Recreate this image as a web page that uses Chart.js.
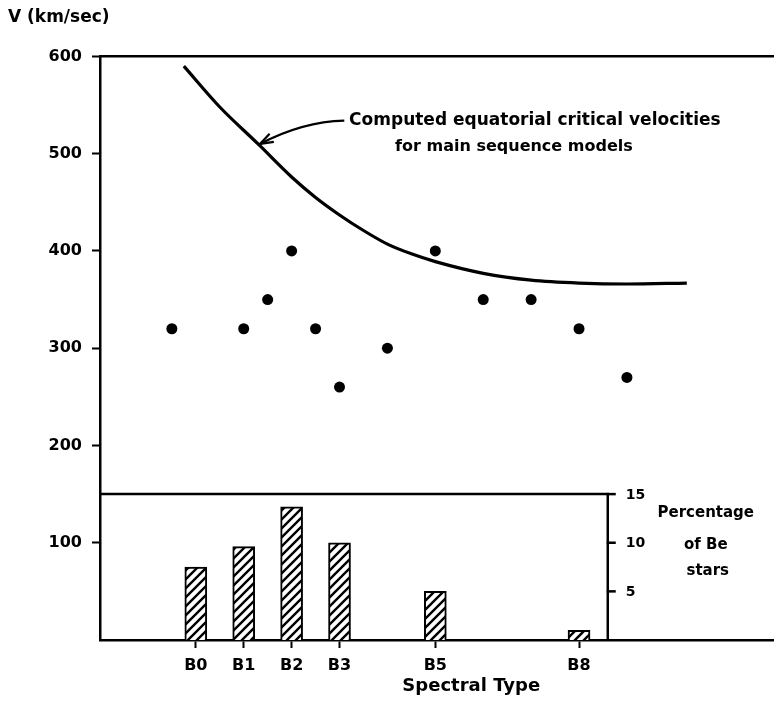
<!DOCTYPE html>
<html>
<head>
<meta charset="utf-8">
<script src="https://cdn.jsdelivr.net/npm/chart.js@4.4.0/dist/chart.umd.min.js"></script>
<style>
  html, body { margin: 0; padding: 0; background: #fff; overflow: hidden; }
  #wrap { width: 774px; height: 704px; overflow: hidden; }
</style>
</head>
<body>
<div id="wrap"><canvas id="myChart" width="848" height="704"></canvas></div>
<script>
// spectral subtype on the x axis: B0 = 0, B1 = 1 ... B9 = 9
var starType = [-0.5, 1, 1.5, 2, 2.5, 3, 4, 5, 6, 7, 8, 9];
var starVel = [320, 320, 350, 400, 320, 260, 300, 400, 350, 350, 320, 270];

// computed equatorial critical velocities
var critType = [-0.25, 0.5, 1.3, 2, 2.5, 3, 3.5, 4, 4.5, 5, 6, 7, 8, 9, 10.25];
var critVel = [590, 548, 510, 476, 455, 437, 421, 407, 397, 389, 377, 370, 367, 366, 367];

// percentage of Be stars
var beType = [0, 1, 2, 3, 5, 8];
var bePct = [7.5, 9.6, 13.7, 10, 5, 1];

var typeTicks = [0, 1, 2, 3, 5, 8];
var typeLabels = ["B0", "B1", "B2", "B3", "B5", "B8"];
var velTicks = [100, 200, 300, 400, 500, 600];
var pctTicks = [5, 10, 15];

var xMin = -2, xMax = 13.5;
var insetRight = 8.6;   // right edge of the percentage box
var pctMax = 60;        // 15 % lines up with 150 km/sec
var FONT = "'DejaVu Sans', sans-serif";

Chart.defaults.font.family = FONT;
Chart.defaults.color = "#000";

function hatch() {
  var c = document.createElement("canvas");
  c.width = 9; c.height = 9;
  var g = c.getContext("2d");
  g.fillStyle = "#fff";
  g.fillRect(0, 0, 9, 9);
  g.strokeStyle = "#000";
  g.lineWidth = 2.4;
  g.beginPath();
  g.moveTo(-2, 11); g.lineTo(11, -2);
  g.moveTo(-2, 2); g.lineTo(2, -2);
  g.moveTo(7, 11); g.lineTo(11, 7);
  g.stroke();
  return g.createPattern(c, "repeat");
}

var decor = {
  id: "decor",
  afterDatasetsDraw: function(chart) {
    var ctx = chart.ctx;
    var sx = chart.scales.x, sy = chart.scales.y, sp = chart.scales.pct;
    ctx.save();
    ctx.strokeStyle = "#000";
    ctx.fillStyle = "#000";
    ctx.lineWidth = 2.5;

    // right axis of the inset
    var ax = sx.getPixelForValue(insetRight);
    ctx.font = "bold 14px " + FONT;
    ctx.textAlign = "left";
    ctx.textBaseline = "middle";
    pctTicks.forEach(function(v) {
      var py = sp.getPixelForValue(v);
      ctx.beginPath();
      ctx.moveTo(ax - 1, py);
      ctx.lineTo(ax + 8, py);
      ctx.stroke();
      ctx.fillText(String(v), ax + 18, py + 1);
    });
    var top = sp.getPixelForValue(15);
    ctx.font = "bold 15px " + FONT;
    ctx.textAlign = "center";
    ctx.fillText("Percentage", ax + 98, top + 19);
    ctx.fillText("of Be", ax + 98, top + 51);
    ctx.fillText("stars", ax + 100, top + 77);

    // callout for the curve
    ctx.textAlign = "left";
    ctx.font = "bold 17px " + FONT;
    ctx.fillText("Computed equatorial critical velocities", sx.getPixelForValue(3.2), sy.getPixelForValue(534));
    ctx.font = "bold 16px " + FONT;
    ctx.fillText("for main sequence models", sx.getPixelForValue(4.16), sy.getPixelForValue(507));

    var x0 = sx.getPixelForValue(3.1), y0 = sy.getPixelForValue(534);
    var cx = sx.getPixelForValue(2.23), cy = sy.getPixelForValue(533);
    var x1 = sx.getPixelForValue(1.34), y1 = sy.getPixelForValue(510);
    ctx.lineWidth = 2.2;
    ctx.beginPath();
    ctx.moveTo(x0, y0);
    ctx.quadraticCurveTo(cx, cy, x1, y1);
    ctx.stroke();
    var a = Math.atan2(y1 - cy, x1 - cx);
    ctx.beginPath();
    ctx.moveTo(x1 - 14 * Math.cos(a - 0.33), y1 - 14 * Math.sin(a - 0.33));
    ctx.lineTo(x1, y1);
    ctx.lineTo(x1 - 14 * Math.cos(a + 0.33), y1 - 14 * Math.sin(a + 0.33));
    ctx.stroke();
    ctx.restore();
  }
};

new Chart("myChart", {
  type: "line",
  data: {
    datasets: [{
      type: "scatter",
      data: starType.map(function(t, i) { return {x: t, y: starVel[i]}; }),
      pointRadius: 5.5,
      pointBackgroundColor: "#000",
      pointBorderColor: "#000",
      borderWidth: 0
    }, {
      type: "line",
      data: critType.map(function(t, i) { return {x: t, y: critVel[i]}; }),
      borderColor: "#000",
      borderWidth: 3.2,
      pointRadius: 0,
      cubicInterpolationMode: "monotone",
      fill: false
    }, {
      // frame of the inset
      type: "line",
      data: [{x: xMin, y: 150}, {x: insetRight, y: 150}, {x: insetRight, y: 0}],
      borderColor: "#000",
      borderWidth: 2.5,
      pointRadius: 0,
      fill: false
    }, {
      type: "bar",
      yAxisID: "pct",
      data: beType.map(function(t, i) { return {x: t, y: bePct[i]}; }),
      backgroundColor: hatch(),
      borderColor: "#000",
      borderWidth: 2,
      barThickness: 22
    }]
  },
  options: {
    responsive: false,
    animation: false,
    layout: {padding: {left: 8, right: 0, top: 0, bottom: 0}},
    plugins: {
      legend: {display: false},
      tooltip: {enabled: false},
      title: {
        display: true,
        text: "V (km/sec)",
        align: "start",
        color: "#000",
        font: {size: 17, weight: "bold"},
        padding: {top: 7, bottom: 21}
      }
    },
    scales: {
      x: {
        type: "linear",
        position: "bottom",
        min: xMin,
        max: xMax,
        offset: false,
        afterBuildTicks: function(s) { s.ticks = typeTicks.map(function(v) { return {value: v}; }); },
        afterFit: function(s) { s.height = 64; },
        ticks: {
          autoSkip: false,
          maxRotation: 0,
          padding: 8,
          font: {size: 16, weight: "bold"},
          callback: function(v) { return typeLabels[typeTicks.indexOf(v)]; }
        },
        grid: {offset: false, drawOnChartArea: false, tickLength: 8, tickWidth: 2, tickColor: "#000"},
        border: {color: "#000", width: 2.5},
        title: {display: true, text: "Spectral Type", font: {size: 18, weight: "bold"}, padding: {top: 0, bottom: 7}}
      },
      xTop: {
        type: "linear",
        position: "top",
        min: xMin,
        max: xMax,
        ticks: {display: false},
        grid: {display: false},
        border: {color: "#000", width: 2.5}
      },
      y: {
        min: 0,
        max: 600,
        afterBuildTicks: function(s) { s.ticks = velTicks.map(function(v) { return {value: v}; }); },
        afterFit: function(s) { s.width = 92; },
        ticks: {padding: 10, font: {size: 16, weight: "bold"}},
        grid: {drawOnChartArea: false, tickLength: 8, tickWidth: 2, tickColor: "#000"},
        border: {color: "#000", width: 2.5}
      },
      pct: {
        display: false,
        min: 0,
        max: pctMax
      }
    }
  },
  plugins: [decor]
});
</script>
</body>
</html>
